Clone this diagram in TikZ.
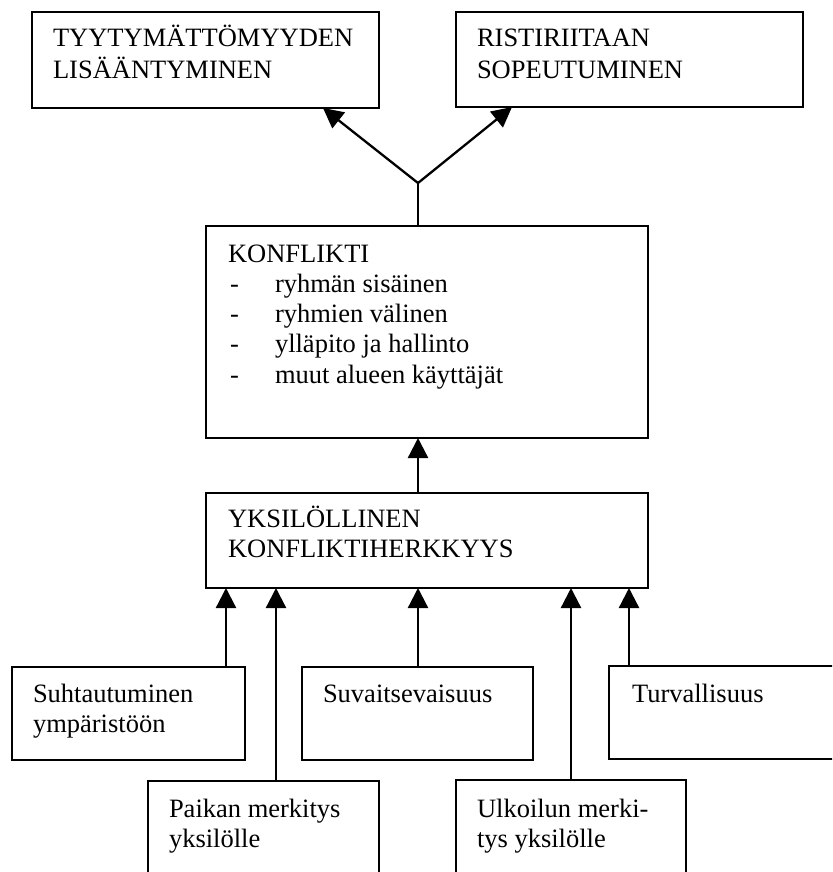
\documentclass[tikz,border=0pt]{standalone}
\usepackage{fontspec}
\setmainfont{Liberation Serif}
\usetikzlibrary{arrows.meta}
\tikzset{
  box/.style={draw, line width=2.4pt, rectangle, inner sep=0pt, outer sep=0pt, anchor=north west},
  txt/.style={inner sep=0pt, outer sep=0pt, anchor=base west, font=\fontsize{26.5}{30}\selectfont},
  conn/.style={line width=2.3pt, -{Triangle[length=20pt,width=20pt]}},
  plain/.style={line width=2pt}
}
\begin{document}
\begin{tikzpicture}[x=1pt,y=-1pt]
\useasboundingbox (0,0) rectangle (832,872);
\clip (0,0) rectangle (832,872);
\fill[white] (0,0) rectangle (832,872);
% boxes
\node[box, minimum width=347pt, minimum height=96pt] (tl) at (32,12) {};
\node[box, minimum width=347pt, minimum height=95pt] (tr) at (456,12) {};
\node[box, minimum width=442pt, minimum height=212pt] (konf) at (206,226) {};
\node[box, minimum width=442pt, minimum height=95pt] (yks) at (206,493) {};
\node[box, minimum width=233pt, minimum height=93pt] (suh) at (12,667) {};
\node[box, minimum width=231pt, minimum height=93pt] (suv) at (302,667) {};
\node[box, minimum width=260pt, minimum height=93pt] (tur) at (609,666) {};
\node[box, minimum width=231pt, minimum height=120pt] (pai) at (148,781) {};
\node[box, minimum width=230pt, minimum height=120pt] (ulk) at (456,780) {};
% texts
\node[txt] at (53,47) {TYYTYMÄTTÖMYYDEN};
\node[txt] at (53,79) {LISÄÄNTYMINEN};
\node[txt] at (477,47) {RISTIRIITAAN};
\node[txt] at (477,79) {SOPEUTUMINEN};
\node[txt] at (228,262) {KONFLIKTI};
\node[txt] at (230,292) {-};
\node[txt] at (275,292) {ryhmän sisäinen};
\node[txt] at (230,322) {-};
\node[txt] at (275,322) {ryhmien välinen};
\node[txt] at (230,352) {-};
\node[txt] at (275,352) {ylläpito ja hallinto};
\node[txt] at (230,383) {-};
\node[txt] at (275,383) {muut alueen käyttäjät};
\node[txt] at (228,527) {YKSILÖLLINEN};
\node[txt] at (228,557) {KONFLIKTIHERKKYYS};
\node[txt] at (33,702) {Suhtautuminen};
\node[txt] at (33,732) {ympäristöön};
\node[txt] at (323,702) {Suvaitsevaisuus};
\node[txt] at (632,702) {Turvallisuus};
\node[txt] at (169,817) {Paikan merkitys};
\node[txt] at (169,847) {yksilölle};
\node[txt] at (477,817) {Ulkoilun merki-};
\node[txt] at (477,847) {tys yksilölle};
% connectors
\coordinate (J) at (418,183);
\draw[plain] (J |- konf.north) -- (J);
\draw[conn] (J) -- ([xshift=-56pt]tl.south east);
\draw[conn] (J) -- ([xshift=56pt]tr.south west);
\draw[conn] (J |- yks.north) -- (J |- konf.south);
\draw[conn] ([xshift=214pt]suh.north west) -- ([xshift=214pt]suh.north west |- yks.south);
\draw[conn] ([xshift=128pt]pai.north west) -- ([xshift=128pt]pai.north west |- yks.south);
\draw[conn] ([xshift=116pt]suv.north west) -- ([xshift=116pt]suv.north west |- yks.south);
\draw[conn] ([xshift=115pt]ulk.north west) -- ([xshift=115pt]ulk.north west |- yks.south);
\draw[conn] ([xshift=20pt]tur.north west) -- ([xshift=20pt]tur.north west |- yks.south);
\end{tikzpicture}
\end{document}
